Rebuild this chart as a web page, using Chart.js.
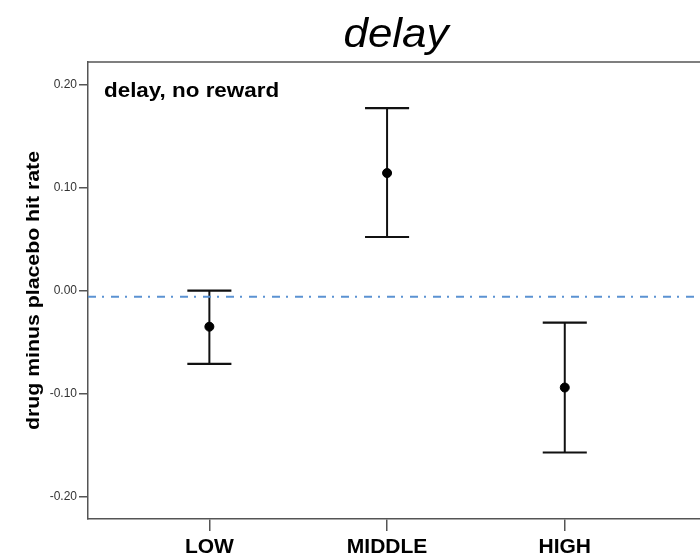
<!DOCTYPE html>
<html lang="en">
<head>
  <meta charset="UTF-8" />
  <title>delay</title>
  <script src="https://cdn.jsdelivr.net/npm/chart.js"></script>
  <style>
    html, body { margin: 0; padding: 0; background: #fff; }
    #wrap { width: 700px; height: 557px; }
  </style>
</head>
<body>
  <div id="wrap"><canvas id="chart" width="700" height="557"></canvas></div>

  <script>
    // values
    const groups = ['LOW', 'MIDDLE', 'HIGH'];
    const means = [-0.035, 0.114, -0.094];
    const upper = [0.000, 0.177, -0.031];
    const lower = [-0.071, 0.052, -0.157];
    const yTicks = [-0.20, -0.10, 0.00, 0.10, 0.20];
    const refValue = -0.006;

    const FONT = "'Liberation Sans', Arial, sans-serif";
    const X_MIN = -0.683, X_MAX = 2.761;

    // helper: draw text stretched along its own direction
    function drawText(ctx, text, x, y, font, sx, align) {
      ctx.save();
      ctx.font = font;
      ctx.textAlign = align || 'left';
      ctx.textBaseline = 'alphabetic';
      ctx.translate(x, y);
      ctx.scale(sx, 1);
      ctx.fillStyle = '#000';
      ctx.fillText(text, 0, 0);
      ctx.restore();
    }

    const decorPlugin = {
      id: 'decor',
      beforeDatasetsDraw(chart) {
        const ctx = chart.ctx;
        const xs = chart.scales.x, ys = chart.scales.y;
        const a = chart.chartArea;

        // top frame line
        ctx.save();
        ctx.strokeStyle = '#555';
        ctx.lineWidth = 1.5;
        ctx.beginPath();
        ctx.moveTo(a.left, a.top);
        ctx.lineTo(a.right, a.top);
        ctx.stroke();
        ctx.restore();

        // error bars
        ctx.save();
        ctx.strokeStyle = '#111';
        const capHalf = 0.124;
        groups.forEach((g, i) => {
          const x = xs.getPixelForValue(i);
          const yT = ys.getPixelForValue(upper[i]);
          const yB = ys.getPixelForValue(lower[i]);
          ctx.lineWidth = 2;
          ctx.beginPath();
          ctx.moveTo(x, yT);
          ctx.lineTo(x, yB);
          ctx.stroke();
          ctx.lineWidth = 2.2;
          ctx.beginPath();
          ctx.moveTo(xs.getPixelForValue(i - capHalf), yT);
          ctx.lineTo(xs.getPixelForValue(i + capHalf), yT);
          ctx.moveTo(xs.getPixelForValue(i - capHalf), yB);
          ctx.lineTo(xs.getPixelForValue(i + capHalf), yB);
          ctx.stroke();
        });
        ctx.restore();
      },
      afterDraw(chart) {
        const ctx = chart.ctx;
        const a = chart.chartArea;
        // title
        drawText(ctx, 'delay', 396, 47, 'italic 40px ' + FONT, 1.1, 'center');
        // inner label
        drawText(ctx, 'delay, no reward', 104, 97, 'bold 20px ' + FONT, 1.12, 'left');
        // y axis title
        ctx.save();
        ctx.translate(39, (a.top + a.bottom) / 2);
        ctx.rotate(-Math.PI / 2);
        drawText(ctx, 'drug minus placebo hit rate', 0, 0, 'bold 19px ' + FONT, 1.12, 'center');
        ctx.restore();
      }
    };

    new Chart(document.getElementById('chart'), {
      type: 'scatter',
      data: {
        datasets: [
          {
            type: 'line',
            data: [{ x: X_MIN, y: refValue }, { x: X_MAX, y: refValue }],
            borderColor: '#5b92d2',
            borderWidth: 2,
            borderDash: [8, 6, 2, 7],
            pointRadius: 0,
            fill: false
          },
          {
            data: groups.map((g, i) => ({ x: i, y: means[i] })),
            backgroundColor: '#000',
            borderColor: '#000',
            pointRadius: 4.5,
            pointHoverRadius: 4.5
          }
        ]
      },
      options: {
        responsive: false,
        animation: false,
        events: [],
        layout: { autoPadding: false, padding: { top: 62, right: 0, left: 0, bottom: 0 } },
        plugins: { legend: { display: false }, tooltip: { enabled: false } },
        scales: {
          x: {
            type: 'linear',
            min: X_MIN,
            max: X_MAX,
            afterBuildTicks: s => { s.ticks = groups.map((g, i) => ({ value: i })); },
            afterFit: s => { s.height = 38; },
            ticks: {
              callback: v => groups[v],
              font: { family: FONT, size: 21, weight: 'bold' },
              color: '#000',
              padding: 4,
              maxRotation: 0
            },
            grid: { drawOnChartArea: false, drawTicks: true, tickLength: 12, color: '#555', lineWidth: 1.5 },
            border: { color: '#555', width: 1.5 }
          },
          y: {
            min: -0.2215,
            max: 0.2217,
            afterBuildTicks: s => { s.ticks = yTicks.map(v => ({ value: v })); },
            afterFit: s => { s.width = 88; },
            ticks: {
              callback: v => v.toFixed(2),
              font: { family: FONT, size: 12 },
              color: '#333',
              padding: 2
            },
            grid: { drawOnChartArea: false, drawTicks: true, tickLength: 9, color: '#555', lineWidth: 1.5 },
            border: { color: '#555', width: 1.5 }
          }
        }
      },
      plugins: [decorPlugin]
    });
  </script>
</body>
</html>
